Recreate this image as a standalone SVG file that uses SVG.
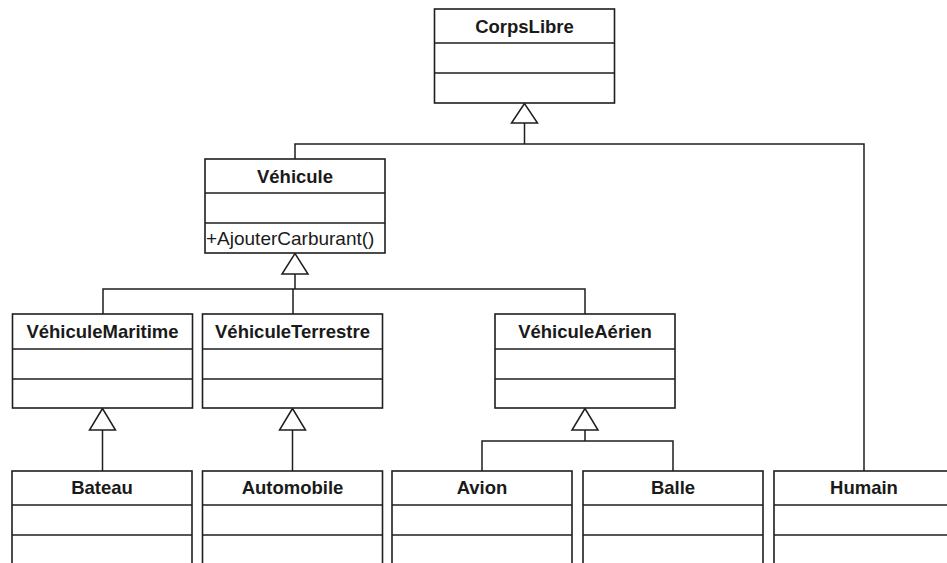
<svg xmlns="http://www.w3.org/2000/svg" width="947" height="563" viewBox="0 0 947 563">
  <style>
    .box { fill: #fff; stroke: #1e1e1e; stroke-width: 1.6; }
    .sep { stroke: #1e1e1e; stroke-width: 1.6; }
    .name { font-family: "Liberation Sans", Arial, sans-serif; font-weight: bold; font-size: 18.5px; fill: #1a1a1a; text-anchor: middle; }
    .op { font-family: "Liberation Sans", Arial, sans-serif; font-size: 19px; fill: #1a1a1a; }
    .wire { fill: none; stroke: #1e1e1e; stroke-width: 1.5; }
    .tri { fill: #fff; stroke: #1e1e1e; stroke-width: 1.5; stroke-linejoin: miter; }
  </style>
  <rect x="0" y="0" width="947" height="563" fill="#fff"/>

  <!-- generalization connectors -->
  <g id="connectors">
    <!-- Véhicule, Humain -> CorpsLibre -->
    <path class="wire" d="M524.5 123 V144 M295 159 V144 H864 V471"/>
    <polygon class="tri" points="524.5,103.5 511.5,123 537.5,123"/>
    <!-- Véhicule subclasses -->
    <path class="wire" d="M295 274 V289 M103 314 V289 H585 V314 M293 289 V314"/>
    <polygon class="tri" points="295,253.5 282,274 308,274"/>
    <!-- Bateau -> VéhiculeMaritime -->
    <path class="wire" d="M102.5 430 V471"/>
    <polygon class="tri" points="102.5,408.5 89.5,430 115.5,430"/>
    <!-- Automobile -> VéhiculeTerrestre -->
    <path class="wire" d="M292.5 430 V471"/>
    <polygon class="tri" points="292.5,408.5 279.5,430 305.5,430"/>
    <!-- Avion, Balle -> VéhiculeAérien -->
    <path class="wire" d="M585 430 V441 M482 471 V441 H673 V471"/>
    <polygon class="tri" points="585,408.5 572,430 598,430"/>
  </g>

  <g id="CorpsLibre">
    <rect class="box" x="434.5" y="9" width="180" height="94"/>
    <line class="sep" x1="434.5" y1="43" x2="614.5" y2="43"/>
    <line class="sep" x1="434.5" y1="73" x2="614.5" y2="73"/>
    <text class="name" x="524.5" y="32.5">CorpsLibre</text>
  </g>

  <g id="Vehicule">
    <rect class="box" x="205" y="159" width="180" height="94"/>
    <line class="sep" x1="205" y1="193" x2="385" y2="193"/>
    <line class="sep" x1="205" y1="223" x2="385" y2="223"/>
    <text class="name" x="295" y="182.5">Véhicule</text>
    <text class="op" x="206" y="244.5">+AjouterCarburant()</text>
  </g>

  <g id="VehiculeMaritime">
    <rect class="box" x="12.5" y="314" width="180" height="94"/>
    <line class="sep" x1="12.5" y1="349" x2="192.5" y2="349"/>
    <line class="sep" x1="12.5" y1="379" x2="192.5" y2="379"/>
    <text class="name" x="102.5" y="338">VéhiculeMaritime</text>
  </g>

  <g id="VehiculeTerrestre">
    <rect class="box" x="202.5" y="314" width="180" height="94"/>
    <line class="sep" x1="202.5" y1="349" x2="382.5" y2="349"/>
    <line class="sep" x1="202.5" y1="379" x2="382.5" y2="379"/>
    <text class="name" x="292.5" y="338">VéhiculeTerrestre</text>
  </g>

  <g id="VehiculeAerien">
    <rect class="box" x="495" y="314" width="180" height="94"/>
    <line class="sep" x1="495" y1="349" x2="675" y2="349"/>
    <line class="sep" x1="495" y1="379" x2="675" y2="379"/>
    <text class="name" x="585" y="338">VéhiculeAérien</text>
  </g>

  <g id="Bateau">
    <rect class="box" x="12" y="471" width="180" height="100"/>
    <line class="sep" x1="12" y1="505" x2="192" y2="505"/>
    <line class="sep" x1="12" y1="535" x2="192" y2="535"/>
    <text class="name" x="102" y="494">Bateau</text>
  </g>

  <g id="Automobile">
    <rect class="box" x="202.5" y="471" width="180" height="100"/>
    <line class="sep" x1="202.5" y1="505" x2="382.5" y2="505"/>
    <line class="sep" x1="202.5" y1="535" x2="382.5" y2="535"/>
    <text class="name" x="292.5" y="494">Automobile</text>
  </g>

  <g id="Avion">
    <rect class="box" x="392" y="471" width="180" height="100"/>
    <line class="sep" x1="392" y1="505" x2="572" y2="505"/>
    <line class="sep" x1="392" y1="535" x2="572" y2="535"/>
    <text class="name" x="482" y="494">Avion</text>
  </g>

  <g id="Balle">
    <rect class="box" x="583" y="471" width="180" height="100"/>
    <line class="sep" x1="583" y1="505" x2="763" y2="505"/>
    <line class="sep" x1="583" y1="535" x2="763" y2="535"/>
    <text class="name" x="673" y="494">Balle</text>
  </g>

  <g id="Humain">
    <rect class="box" x="774" y="471" width="180" height="100"/>
    <line class="sep" x1="774" y1="505" x2="954" y2="505"/>
    <line class="sep" x1="774" y1="535" x2="954" y2="535"/>
    <text class="name" x="864" y="494">Humain</text>
  </g>
</svg>
